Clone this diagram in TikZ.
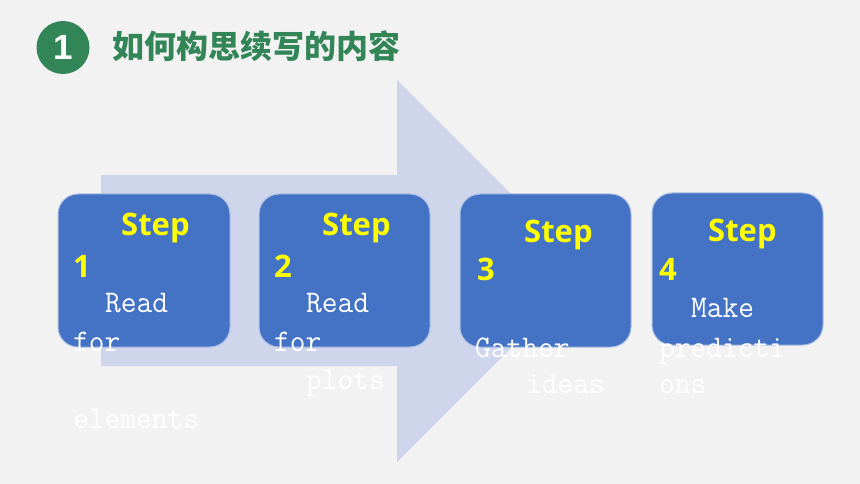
\documentclass[tikz,border=0pt]{standalone}
\usepackage{fontspec}
\newfontfamily\stepfont{Open Sans}
\newfontfamily\monofont{Latin Modern Mono}[FakeStretch=0.97]
\newfontfamily\numfont{Liberation Sans}
\newfontfamily\cjkfont{Noto Sans CJK SC}
\definecolor{bg}{HTML}{F2F2F2}
\definecolor{arrowc}{HTML}{CFD5EA}
\definecolor{boxc}{HTML}{4472C4}
\definecolor{titlegreen}{HTML}{328557}
\definecolor{stepyellow}{HTML}{FFFF00}
\tikzset{
  stepbox/.style={draw=white!55!boxc, line width=1pt, fill=boxc, rounded corners=20pt, minimum width=172pt, minimum height=153pt, inner sep=0pt},
  steptxt/.style={anchor=base west, inner sep=0pt, text=stepyellow, font=\stepfont\bfseries\fontsize{31}{31}\selectfont},
  bodytxt/.style={anchor=base west, inner sep=0pt, text=white, font=\monofont\fontsize{31.5}{31.5}\selectfont},
}
\begin{document}
\begin{tikzpicture}[x=1pt,y=-1pt]
\fill[bg] (0,0) rectangle (860,484);
\useasboundingbox (0,0) rectangle (860,484);
% title
\node[circle, fill=titlegreen, minimum size=53pt, inner sep=0pt] (badge) at (63,47.5) {};
\node[text=white, font=\numfont\bfseries\fontsize{35}{35}\selectfont, inner sep=0pt] (badgenum) at (badge.center) {1};
\node[anchor=base west, inner sep=0pt, text=titlegreen, font=\cjkfont\bfseries\fontsize{32}{32}\selectfont] (title) at (112,59) {如何构思续写的内容};
% arrow
\fill[arrowc] (101,175) -- (397,175) -- (397,80) -- (588,271) -- (397,462) -- (397,366) -- (101,366) -- cycle;
% boxes
\node[stepbox] (box1) at (144,270.5) {};
\node[stepbox, minimum width=171pt] (box2) at (344.5,270.5) {};
\node[stepbox, minimum width=171pt] (box3) at (545.5,270.5) {};
\node[stepbox, minimum width=171pt, minimum height=152pt] (box4) at (737.5,269) {};
% box 1 text
\node[steptxt] (s1a) at (121,235) {Step};
\node[steptxt] (s1b) at (73,277) {1};
\node[bodytxt] (r1a) at (105,312) {Read};
\node[bodytxt] (r1b) at (73,351) {for};
\node[bodytxt] (r1c) at (73,428) {elements};
% box 2 text
\node[steptxt] (s2a) at (322,235) {Step};
\node[steptxt] (s2b) at (274,277) {2};
\node[bodytxt] (r2a) at (306,312) {Read};
\node[bodytxt] (r2b) at (274,351) {for};
\node[bodytxt] (r2c) at (306,389) {plots};
% box 3 text
\node[steptxt] (s3a) at (524,242) {Step};
\node[steptxt] (s3b) at (477,280) {3};
\node[bodytxt] (r3a) at (475,357) {Gather};
\node[bodytxt] (r3b) at (526,393) {ideas};
% box 4 text
\node[steptxt] (s4a) at (708,241) {Step};
\node[steptxt] (s4b) at (659,280) {4};
\node[bodytxt] (r4a) at (691,317) {Make};
\node[bodytxt] (r4b) at (659,357) {predicti};
\node[bodytxt] (r4c) at (659,393) {ons};
\end{tikzpicture}
\end{document}
